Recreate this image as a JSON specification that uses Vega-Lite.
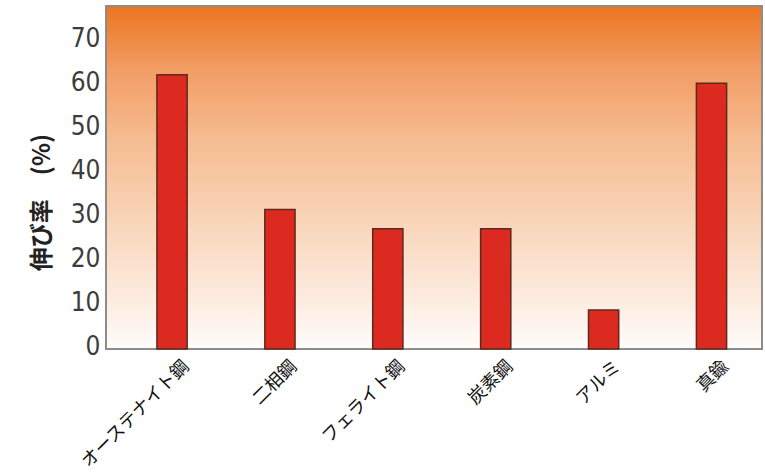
{
  "$schema": "https://vega.github.io/schema/vega-lite/v6.json",
  "autosize": "none",
  "width": 656,
  "height": 343,
  "padding": {"left": 106, "top": 6, "right": 3, "bottom": 126},
  "background": "white",
  "config": {"view": {"stroke": null}},
  "data": {
    "values": [
      {"material": "オーステナイト鋼", "elongation": 62.5},
      {"material": "二相鋼", "elongation": 31.8},
      {"material": "フェライト鋼", "elongation": 27.4},
      {"material": "炭素鋼", "elongation": 27.4},
      {"material": "アルミ", "elongation": 8.9},
      {"material": "真鍮", "elongation": 60.6}
    ]
  },
  "layer": [
    {
      "mark": {
        "type": "rect",
        "stroke": "#8c8c8c",
        "strokeWidth": 2,
        "color": {
          "gradient": "linear",
          "x1": 0, "y1": 0, "x2": 0, "y2": 1,
          "stops": [
            {"offset": 0, "color": "#ec7420"},
            {"offset": 0.18, "color": "#f29c63"},
            {"offset": 0.4, "color": "#f6bd93"},
            {"offset": 0.65, "color": "#f9d7bd"},
            {"offset": 0.85, "color": "#fcebdf"},
            {"offset": 1, "color": "#fffcfa"}
          ]
        }
      },
      "encoding": {
        "y": {"datum": 0, "type": "quantitative"},
        "y2": {"datum": 78.2}
      }
    },
    {
      "mark": {"type": "bar", "fill": "#dc2a20", "stroke": "#5c2a1c", "strokeWidth": 1.5},
      "encoding": {
        "x": {
          "field": "material",
          "type": "nominal",
          "sort": null,
          "scale": {"paddingInner": 0.72, "paddingOuter": 0.4, "align": 0.59},
          "axis": {
            "title": null,
            "domain": false,
            "ticks": false,
            "labelAngle": -45,
            "labelFont": "Noto Sans CJK JP",
            "labelFontSize": 18,
            "labelColor": "#111111",
            "labelPadding": 8,
            "labelOffset": 8
          }
        },
        "y": {
          "field": "elongation",
          "type": "quantitative",
          "scale": {"domain": [0, 78.2], "nice": false, "zero": true},
          "axis": {
            "title": "伸び率　(%)",
            "titleFont": "Noto Sans CJK JP",
            "titleFontSize": 24,
            "titleFontWeight": "bold",
            "titleColor": "#222222",
            "titlePadding": 16,
            "titleY": 196,
            "values": [0, 10, 20, 30, 40, 50, 60, 70],
            "domain": false,
            "ticks": false,
            "grid": false,
            "labelFont": "Liberation Sans Narrow, DejaVu Sans Condensed, Liberation Sans",
            "labelFontSize": 26,
            "labelColor": "#3c3c3c",
            "labelPadding": 6,
            "labelOffset": -3
          }
        }
      }
    }
  ]
}
